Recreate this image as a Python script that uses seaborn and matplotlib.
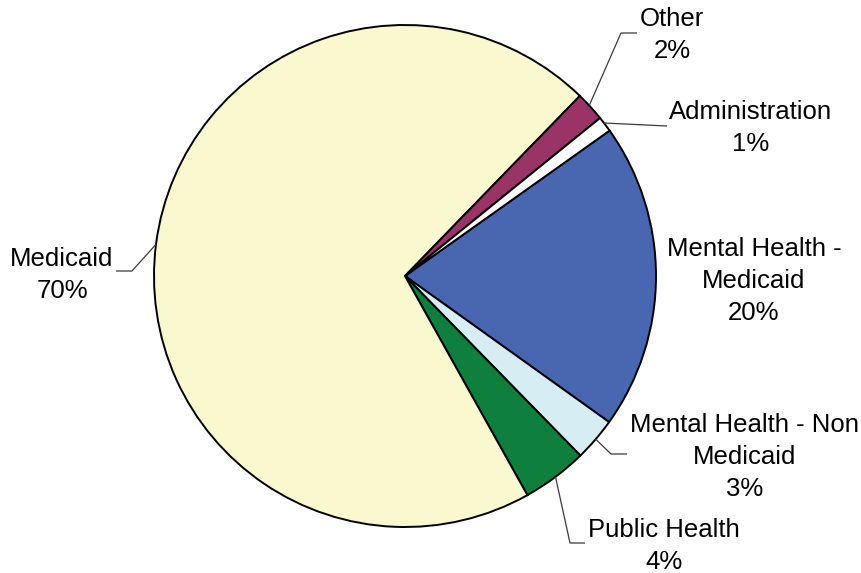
import numpy as np
import matplotlib
matplotlib.use('Agg')
import matplotlib.pyplot as plt
import seaborn as sns

# data
labels = ['Mental Health -\nMedicaid', 'Mental Health - Non\nMedicaid', 'Public Health',
          'Medicaid', 'Other', 'Administration']
shares = [19.7, 2.8, 4.2, 70.3, 1.9, 1.0]
pct_text = ['20%', '3%', '4%', '70%', '2%', '1%']
colors = ['#4967B0', '#D6EDF3', '#0E7F3D', '#FAF8CE', '#9A3366', '#FFFFFF']

sns.set_style('white')
plt.rcParams['font.family'] = ['Liberation Sans', 'DejaVu Sans']

W, H = 862, 573
fig = plt.figure(figsize=(W / 100, H / 100), dpi=100)
ax = fig.add_axes([0, 0, 1, 1])

cx, cy, r = 405, H - 276, 251
start = 35.4
ax.pie(shares, colors=colors, startangle=start, counterclock=False,
       center=(cx, cy), radius=r, frame=True,
       wedgeprops=dict(edgecolor='black', linewidth=1.4))
ax.set_xlim(0, W)
ax.set_ylim(0, H)
ax.set_aspect('equal')
ax.axis('off')

# mid angles of wedges (clockwise from start)
cum = np.cumsum([0] + shares)
mids = start - (cum[:-1] + cum[1:]) / 2 * 3.6

# label layout: text centre, leader elbow, leader end (pixel coords, top origin)
layout = {
    'Mental Health -\nMedicaid': ((754, 281), None, None),
    'Mental Health - Non\nMedicaid': ((745, 457), (611, 454), (627, 454)),
    'Public Health': ((664, 546), (570, 543), (585, 543)),
    'Medicaid': ((62, 275), (132, 271), (116, 271)),
    'Other': ((672, 35), (621, 33), (637, 33)),
    'Administration': ((751, 128), (667, 126), (667, 126)),
}

for lab, pct, ang in zip(labels, pct_text, mids):
    (tx, ty), elbow, end = layout[lab]
    ax.text(tx, H - ty, lab + '\n' + pct, ha='center', va='center',
            fontsize=18.5, linespacing=1.42, color='black')
    if elbow is not None:
        sx = cx + r * np.cos(np.radians(ang))
        sy = cy + r * np.sin(np.radians(ang))
        ax.plot([sx, elbow[0], end[0]], [sy, H - elbow[1], H - end[1]],
                color='#3a3a3a', linewidth=0.9, solid_capstyle='butt')

fig.savefig('out.png', dpi=100)
